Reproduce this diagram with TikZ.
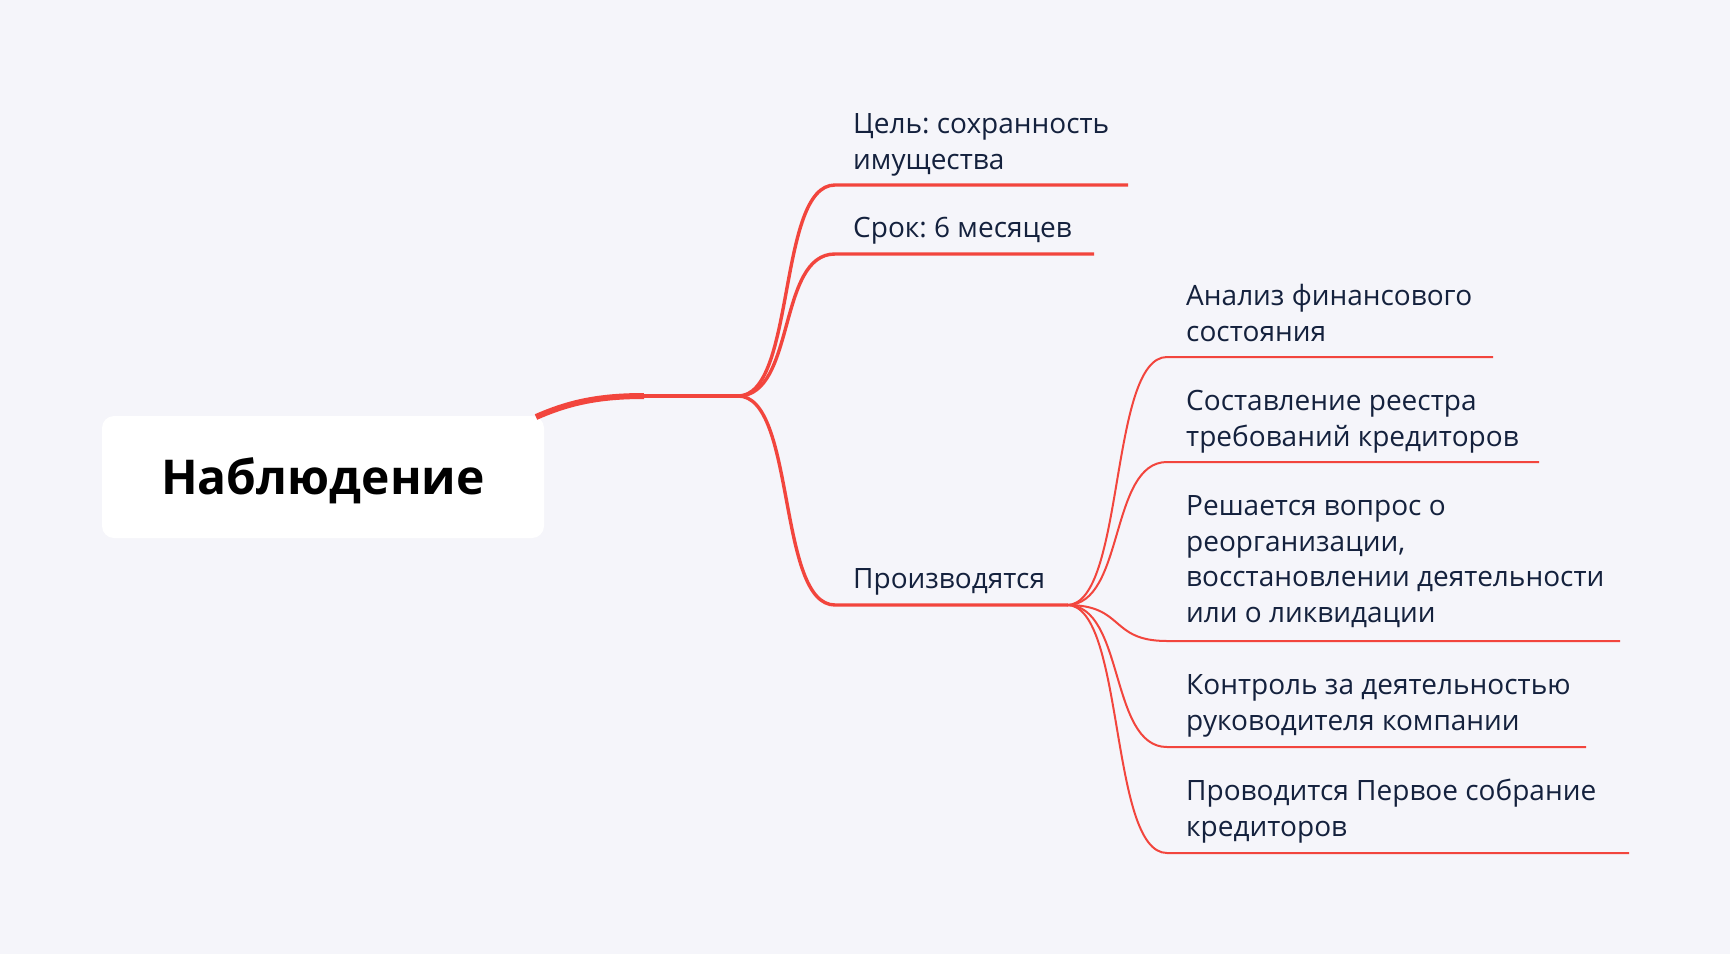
\documentclass[tikz,border=0pt]{standalone}
\usepackage{fontspec}
\usetikzlibrary{calc}
\setmainfont{Open Sans}
\frenchspacing
\definecolor{bg}{HTML}{F5F5FA}
\definecolor{br}{HTML}{F2453D}
\definecolor{tx}{HTML}{14213D}
\begin{document}
\begin{tikzpicture}[x=1pt,y=-1pt,
  lbl/.style={anchor=base west,inner sep=0pt,align=left,text=tx,font=\fontsize{28}{35.5}\selectfont},
  main/.style={draw=br,line width=3.4pt},
  sub/.style={draw=br,line width=2pt}]
\fill[bg] (0,0) rectangle (1730,954);
\useasboundingbox (0,0) rectangle (1730,954);
\node[fill=white,rounded corners=12pt,minimum width=442pt,minimum height=122pt,inner sep=0pt] (root) at (323,477) {};
\node[font=\fontsize{48}{56}\selectfont\bfseries,text=black,inner sep=0pt] (rootlbl) at (323,481) {Наблюдение};
\coordinate (r0) at (536,417);
\coordinate (r1) at (644,396);
\coordinate (f) at (738,396);
\draw[br,line width=6pt] (r0) .. controls (570,402) and (600,396) .. (r1);
\draw[main] (r1) -- (f);
% top-level branches
\coordinate (a0) at (835,185); \coordinate (a1) at (1128,185);
\coordinate (b0) at (835,254); \coordinate (b1) at (1094,254);
\coordinate (c0) at (835,605); \coordinate (c1) at (1068,605);
\foreach \s/\e in {a0/a1,b0/b1,c0/c1}{
  \draw[main] (f) .. controls +(58,0) and ($(\s)+(-58,0)$) .. (\s) -- (\e);
}
\node[lbl] (ta) at (853,169) {Цель: сохранность\\имущества};
\node[lbl] (tb) at (853,237) {Срок: 6 месяцев};
\node[lbl] (tc) at (853,588) {Производятся};
% children
\coordinate (g) at (1067,605);
\coordinate (d0) at (1167,357); \coordinate (d1) at (1493,357);
\coordinate (e0) at (1167,462); \coordinate (e1) at (1539,462);
\coordinate (h0) at (1167,641); \coordinate (h1) at (1620,641);
\coordinate (k0) at (1167,747); \coordinate (k1) at (1586,747);
\coordinate (m0) at (1167,853); \coordinate (m1) at (1629,853);
\foreach \s/\e in {d0/d1,e0/e1,h0/h1,k0/k1,m0/m1}{
  \draw[sub] (g) .. controls +(58,0) and ($(\s)+(-58,0)$) .. (\s) -- (\e);
}
\node[lbl] (td) at (1186,341) {Анализ финансового\\состояния};
\node[lbl] (te) at (1186,446) {Составление реестра\\требований кредиторов};
\node[lbl] (th) at (1186,622) {Решается вопрос о\\реорганизации,\\восстановлении деятельности\\или о ликвидации};
\node[lbl] (tk) at (1186,730) {Контроль за деятельностью\\руководителя компании};
\node[lbl] (tm) at (1186,836) {Проводится Первое собрание\\кредиторов};
\end{tikzpicture}
\end{document}
